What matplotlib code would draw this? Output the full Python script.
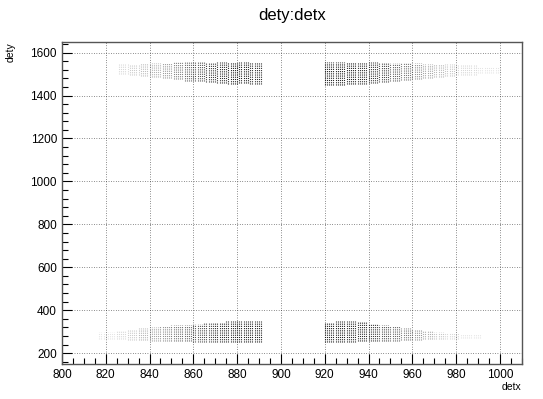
import numpy as np
import matplotlib
matplotlib.use("Agg")
import matplotlib.pyplot as plt
from matplotlib.ticker import MultipleLocator

plt.rcParams['font.family'] = ['Liberation Sans', 'DejaVu Sans']

# hit bands: [x_start, x_end) in detx channels,
# dety range and a rough hit density (0..1) for each band
# top-left cluster
tl_x0 = [826, 831, 836, 841, 846, 851, 856, 861, 866, 871, 876, 881, 886]
tl_x1 = [831, 836, 841, 846, 851, 856, 861, 866, 871, 876, 881, 886, 892]
tl_lo = [1500, 1495, 1490, 1485, 1480, 1475, 1470, 1468, 1462, 1460, 1455, 1458, 1455]
tl_hi = [1545, 1548, 1550, 1550, 1552, 1555, 1555, 1556, 1556, 1556, 1556, 1556, 1556]
tl_d = [0.15, 0.2, 0.25, 0.3, 0.38, 0.48, 0.58, 0.65, 0.75, 0.8, 0.85, 0.85, 0.8]
# top-right cluster
tr_x0 = [920, 925, 930, 935, 940, 945, 950, 955, 960, 965, 970, 975, 980, 990]
tr_x1 = [925, 930, 935, 940, 945, 950, 955, 960, 965, 970, 975, 980, 990, 1001]
tr_lo = [1448, 1450, 1452, 1455, 1460, 1462, 1468, 1472, 1478, 1482, 1488, 1492, 1495, 1505]
tr_hi = [1556, 1556, 1556, 1556, 1555, 1555, 1553, 1552, 1550, 1548, 1546, 1545, 1542, 1535]
tr_d = [0.85, 0.85, 0.85, 0.8, 0.75, 0.7, 0.6, 0.52, 0.42, 0.35, 0.28, 0.22, 0.15, 0.1]
# bottom-left cluster
bl_x0 = [817, 825, 830, 835, 840, 845, 850, 855, 860, 865, 870, 875, 880, 885]
bl_x1 = [825, 830, 835, 840, 845, 850, 855, 860, 865, 870, 875, 880, 885, 892]
bl_lo = [268, 265, 262, 260, 258, 256, 255, 255, 254, 254, 254, 254, 254, 254]
bl_hi = [300, 305, 310, 315, 320, 325, 330, 332, 336, 340, 344, 348, 350, 352]
bl_d = [0.1, 0.15, 0.2, 0.28, 0.35, 0.42, 0.52, 0.58, 0.65, 0.7, 0.8, 0.82, 0.85, 0.85]
# bottom-right cluster
br_x0 = [920, 925, 930, 935, 940, 945, 950, 955, 960, 965, 970, 975, 982]
br_x1 = [925, 930, 935, 940, 945, 950, 955, 960, 965, 970, 975, 982, 992]
br_lo = [254, 254, 254, 255, 256, 257, 258, 260, 262, 264, 266, 268, 270]
br_hi = [346, 350, 348, 345, 338, 332, 325, 318, 312, 305, 300, 295, 290]
br_d = [0.85, 0.85, 0.82, 0.8, 0.75, 0.65, 0.58, 0.5, 0.42, 0.32, 0.22, 0.15, 0.1]

fig = plt.figure(figsize=(5.43, 3.99), dpi=100)
ax = fig.add_axes([0.114, 0.088, 0.847, 0.807])

clusters = [(tl_x0, tl_x1, tl_lo, tl_hi, tl_d),
            (tr_x0, tr_x1, tr_lo, tr_hi, tr_d),
            (bl_x0, bl_x1, bl_lo, bl_hi, bl_d),
            (br_x0, br_x1, br_lo, br_hi, br_d)]
for cx0, cx1, clo, chi, cd in clusters:
    for x0, x1, lo, hi, d in zip(cx0, cx1, clo, chi, cd):
        xs = np.arange(x0, x1)
        ax.vlines(xs, lo, hi, colors='black', linewidth=0.8, alpha=d,
                  linestyles=(0, (1, 1)))

ax.set_xlim(800, 1010)
ax.set_ylim(150, 1650)
ax.xaxis.set_major_locator(MultipleLocator(20))
ax.xaxis.set_minor_locator(MultipleLocator(5))
ax.yaxis.set_major_locator(MultipleLocator(200))
ax.yaxis.set_minor_locator(MultipleLocator(40))
ax.tick_params(which='both', direction='in', top=False, right=False, labelsize=8.5)
ax.tick_params(which='major', length=7, width=0.8)
ax.tick_params(which='minor', length=4, width=0.8)
ax.grid(True, which='major', linestyle=(0, (1, 2.5)), color='#222222', linewidth=0.5)
for s in ax.spines.values():
    s.set_color('#555555')
    s.set_linewidth(1.0)

fig.text(0.538, 0.962, 'dety:detx', ha='center', va='center', fontsize=12)
fig.text(0.961, 0.03, 'detx', ha='right', va='center', fontsize=7.5)
fig.text(0.02, 0.895, 'dety', ha='center', va='top', rotation=90, fontsize=7.5)

fig.savefig('out.png', dpi=100)
